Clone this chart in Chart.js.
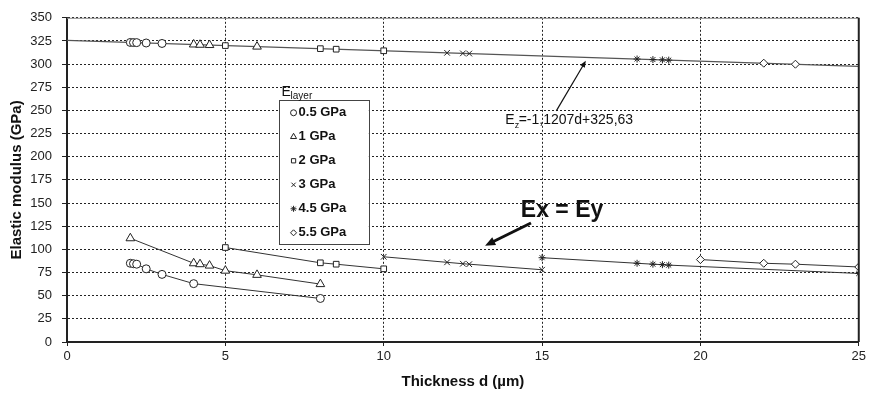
<!DOCTYPE html>
<html>
<head>
<meta charset="utf-8">
<script src="https://cdn.jsdelivr.net/npm/chart.js@4/dist/chart.umd.min.js"></script>
<style>
  html, body { margin: 0; padding: 0; background: #fff; }
  canvas { display: block; }
</style>
</head>
<body>
<canvas id="modulusChart" width="869" height="396"></canvas>
<script>
// layer moduli and the marker used for each
const layerLabels = ['0.5 GPa', '1 GPa', '2 GPa', '3 GPa', '4.5 GPa', '5.5 GPa'];
const markerStyles = ['circle', 'triangle', 'rect', 'crossRot', 'star', 'rectRot'];

// in-plane modulus Ex = Ey (GPa) vs thickness d (um)
const dHalf = [2, 2.1, 2.2, 2.5, 3, 4, 8];
const exHalf = [85, 84.5, 84, 79, 73, 63, 47];
const dOne = [2, 4, 4.2, 4.5, 5, 6, 8];
const exOne = [112, 85, 84, 82.5, 77, 72.5, 62.5];
const dTwo = [5, 8, 8.5, 10];
const exTwo = [102, 85.5, 84, 79];
const dThree = [10, 12, 12.5, 12.7, 15];
const exThree = [92, 86, 84.5, 84, 78];
const dFourHalf = [15, 18, 18.5, 18.8, 19, 25];
const exFourHalf = [91, 85, 84, 83.5, 83, 74];
const dFiveHalf = [20, 22, 23, 25];
const exFiveHalf = [89, 85, 84, 81];

// out-of-plane modulus Ez (GPa)
const dzHalf = [2, 2.1, 2.2, 2.5, 3];
const ezHalf = [323.4, 323.3, 323.2, 322.8, 322.3];
const dzOne = [4, 4.2, 4.5, 6];
const ezOne = [321.2, 320.9, 320.6, 318.9];
const dzTwo = [5, 8, 8.5, 10];
const ezTwo = [320.0, 316.7, 316.1, 314.4];
const dzThree = [10, 12, 12.5, 12.7];
const ezThree = [314.4, 312.2, 311.6, 311.4];
const dzFourHalf = [18, 18.5, 18.8, 19];
const ezFourHalf = [305.5, 304.9, 304.6, 304.3];
const dzFiveHalf = [22, 23];
const ezFiveHalf = [301.0, 299.9];

// linear fit Ez = -1.1207 d + 325.63
const fitD = [0, 25];
const fitEz = [325.63, 297.61];

const xTicks = [0, 5, 10, 15, 20, 25];
const yTicks = [0, 25, 50, 75, 100, 125, 150, 175, 200, 225, 250, 275, 300, 325, 350];

const inPlane = [[dHalf, exHalf], [dOne, exOne], [dTwo, exTwo], [dThree, exThree], [dFourHalf, exFourHalf], [dFiveHalf, exFiveHalf]];
const outPlane = [[dzHalf, ezHalf], [dzOne, ezOne], [dzTwo, ezTwo], [dzThree, ezThree], [dzFourHalf, ezFourHalf], [dzFiveHalf, ezFiveHalf]];

const FONT = '"Liberation Sans", Arial, sans-serif';

function toPoints(xs, ys) {
  return xs.map((x, i) => ({ x: x, y: ys[i] }));
}

function markerRadius(style) {
  if (style === 'triangle') return 5;
  if (style === 'star') return 3.5;
  if (style === 'crossRot') return 4;
  return 4;
}

function markerSet(i) {
  return {
    pointStyle: markerStyles[i],
    pointRadius: markerRadius(markerStyles[i]),
    pointBorderColor: '#222',
    pointBackgroundColor: '#fff',
    pointBorderWidth: 1
  };
}

const datasets = [];
inPlane.forEach(([xs, ys], i) => {
  datasets.push(Object.assign({
    label: layerLabels[i] + ' Ex',
    data: toPoints(xs, ys),
    showLine: true,
    borderColor: '#333',
    borderWidth: 1,
    order: 1
  }, markerSet(i)));
});
outPlane.forEach(([xs, ys], i) => {
  datasets.push(Object.assign({
    label: layerLabels[i] + ' Ez',
    data: toPoints(xs, ys),
    showLine: false,
    order: 1
  }, markerSet(i)));
});
datasets.push({
  label: 'Ez fit',
  data: toPoints(fitD, fitEz),
  showLine: true,
  borderColor: '#555',
  borderWidth: 1.3,
  pointRadius: 0,
  order: 2
});

function drawMarker(ctx, style, x, y, r) {
  ctx.save();
  ctx.strokeStyle = '#222';
  ctx.fillStyle = '#fff';
  ctx.lineWidth = 1;
  Chart.helpers.drawPoint(ctx, { pointStyle: style, rotation: 0, radius: r, borderWidth: 1 }, x, y);
  ctx.restore();
}

function drawArrow(ctx, x1, y1, x2, y2, width, head) {
  const ang = Math.atan2(y2 - y1, x2 - x1);
  ctx.save();
  ctx.strokeStyle = '#111';
  ctx.fillStyle = '#111';
  ctx.lineWidth = width;
  ctx.beginPath();
  ctx.moveTo(x1, y1);
  ctx.lineTo(x2 - Math.cos(ang) * head * 0.8, y2 - Math.sin(ang) * head * 0.8);
  ctx.stroke();
  ctx.beginPath();
  ctx.moveTo(x2, y2);
  ctx.lineTo(x2 - head * Math.cos(ang - 0.4), y2 - head * Math.sin(ang - 0.4));
  ctx.lineTo(x2 - head * Math.cos(ang + 0.4), y2 - head * Math.sin(ang + 0.4));
  ctx.closePath();
  ctx.fill();
  ctx.restore();
}

// frame, legend box and the two callouts
const overlayPlugin = {
  id: 'overlay',
  afterDatasetsDraw(chart) {
    const ctx = chart.ctx;
    const area = chart.chartArea;
    const xs = chart.scales.x;
    const ys = chart.scales.y;
    const px = v => xs.getPixelForValue(v);
    const py = v => ys.getPixelForValue(v);

    ctx.save();
    // plot frame: light top edge, dark right edge
    ctx.strokeStyle = '#888';
    ctx.lineWidth = 1;
    ctx.beginPath();
    ctx.moveTo(area.left, area.top + 0.5);
    ctx.lineTo(area.right, area.top + 0.5);
    ctx.stroke();
    ctx.strokeStyle = '#222';
    ctx.lineWidth = 2;
    ctx.beginPath();
    ctx.moveTo(area.right, area.top);
    ctx.lineTo(area.right, area.bottom);
    ctx.stroke();

    // legend
    const lx = px(6.68), rx = px(9.53);
    const ty = py(261.5), by = py(106);
    ctx.fillStyle = '#fff';
    ctx.fillRect(lx, ty, rx - lx, by - ty);
    ctx.strokeStyle = '#444';
    ctx.lineWidth = 1;
    ctx.strokeRect(Math.round(lx) + 0.5, Math.round(ty) + 0.5, Math.round(rx - lx), Math.round(by - ty));

    ctx.fillStyle = '#111';
    ctx.textBaseline = 'alphabetic';
    ctx.font = '14px ' + FONT;
    ctx.fillText('E', lx + 3, ty - 4);
    ctx.font = '10px ' + FONT;
    ctx.fillText('layer', lx + 12, ty - 1);

    const rowGap = (by - ty) / 6;
    ctx.font = 'bold 13px ' + FONT;
    ctx.textBaseline = 'middle';
    layerLabels.forEach((lab, i) => {
      const cy = ty + rowGap * (i + 0.5) + 1;
      drawMarker(ctx, markerStyles[i], lx + 15, cy, markerStyles[i] === 'triangle' ? 3.5 : 3);
      ctx.fillStyle = '#111';
      ctx.fillText(lab, lx + 20, cy);
    });

    // Ez fit callout
    drawArrow(ctx, px(15.45), py(249.5), px(16.38), py(303.5), 1.2, 7);
    ctx.fillStyle = '#111';
    ctx.textBaseline = 'middle';
    ctx.font = '14px ' + FONT;
    const ex = px(13.84), ey = py(239.5);
    ctx.fillText('E', ex, ey);
    const ew = ctx.measureText('E').width;
    ctx.font = '9px ' + FONT;
    ctx.fillText('z', ex + ew, ey + 5);
    ctx.font = '14px ' + FONT;
    ctx.fillText('=-1,1207d+325,63', ex + ew + 4, ey);

    // in-plane callout
    ctx.font = 'bold 23px ' + FONT;
    ctx.fillText('Ex = Ey', px(14.33), py(142));
    drawArrow(ctx, px(14.65), py(128.5), px(13.2), py(104), 3, 11);
    ctx.restore();
  }
};

new Chart(document.getElementById('modulusChart'), {
  type: 'scatter',
  data: { datasets: datasets },
  plugins: [overlayPlugin],
  options: {
    responsive: false,
    animation: false,
    layout: { padding: { top: 12, right: 7, left: 0, bottom: 0 } },
    plugins: {
      legend: { display: false },
      tooltip: { enabled: false }
    },
    scales: {
      x: {
        type: 'linear',
        min: 0,
        max: 25,
        afterBuildTicks: s => { s.ticks = xTicks.map(v => ({ value: v })); },
        afterFit: s => { s.height = 54; },
        ticks: {
          color: '#222',
          font: { family: FONT, size: 13 },
          padding: 3,
          maxRotation: 0
        },
        grid: { color: '#222', lineWidth: 1, tickLength: 4, tickColor: '#222' },
        border: { display: true, color: '#222', width: 2, dash: [2, 2] },
        title: {
          display: true,
          text: 'Thickness d (µm)',
          color: '#111',
          font: { family: FONT, size: 15, weight: 'bold' },
          padding: { top: 0, bottom: 5 }
        }
      },
      y: {
        type: 'linear',
        min: 0,
        max: 350,
        afterBuildTicks: s => { s.ticks = yTicks.map(v => ({ value: v })); },
        afterFit: s => { s.width = 67; },
        ticks: {
          color: '#222',
          font: { family: FONT, size: 13 },
          padding: 10
        },
        grid: { color: '#222', lineWidth: 1, tickLength: 5, tickColor: '#222' },
        border: { display: true, color: '#222', width: 2, dash: [2, 2] },
        title: {
          display: true,
          text: 'Elastic modulus (GPa)',
          color: '#111',
          font: { family: FONT, size: 15, weight: 'bold' },
          padding: { top: 8, bottom: 0 }
        }
      }
    }
  }
});
</script>
</body>
</html>
